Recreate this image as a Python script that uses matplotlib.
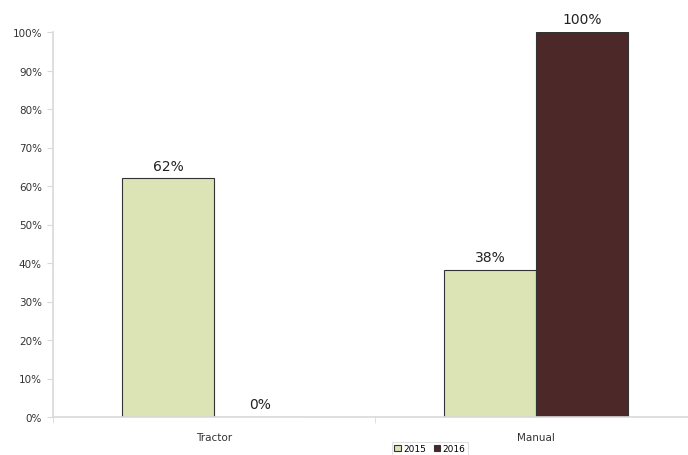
import numpy as np
import matplotlib.pyplot as plt
from matplotlib.ticker import PercentFormatter

categories = ["Tractor", "Manual"]
series_names = ["2015", "2016"]
values_2015 = [62, 38.3]
values_2016 = [0, 100]
labels_2015 = ["62%", "38%"]
labels_2016 = ["0%", "100%"]

col_2015 = "#dce3b5"
col_2016 = "#4d2828"

fig = plt.figure(figsize=(6.88, 4.56), dpi=100)
ax = fig.add_axes([53 / 688, 1 - 418 / 456, 644 / 688, 385 / 456])

x = np.arange(len(categories))
w = 0.286
b1 = ax.bar(x - w / 2, values_2015, w, color=col_2015, edgecolor="#333333", linewidth=0.8, label=series_names[0])
b2 = ax.bar(x + w / 2, values_2016, w, color=col_2016, edgecolor="#333333", linewidth=0.8, label=series_names[1])

for bars, labs in [(b1, labels_2015), (b2, labels_2016)]:
    for r, t in zip(bars, labs):
        ax.text(r.get_x() + r.get_width() / 2, r.get_height() + 1.5, t,
                ha="center", va="bottom", fontsize=10, color="#222222")

ax.set_xlim(-0.5, 1.5)
ax.set_ylim(0, 100)
ax.set_yticks(np.arange(0, 101, 10))
ax.yaxis.set_major_formatter(PercentFormatter(decimals=0))
ax.set_xticks(x)
ax.set_xticklabels(categories)
ax.set_xticks([-0.5, 0.5, 1.5], minor=True)
ax.tick_params(axis="x", which="major", length=0, labelsize=7.5, pad=11, labelcolor="#333333")
ax.tick_params(axis="x", which="minor", length=4, color="#d9d9d9")
ax.tick_params(axis="y", length=4, color="#d9d9d9", labelsize=7.5, pad=4, labelcolor="#333333")

for s in ["top", "right"]:
    ax.spines[s].set_visible(False)
for s in ["left", "bottom"]:
    ax.spines[s].set_color("#d9d9d9")
    ax.spines[s].set_linewidth(1.2)

leg = fig.legend(handles=[b1, b2], loc="upper center", bbox_to_anchor=(430 / 688, 1 - 438 / 456),
                 ncol=2, fontsize=6.5, frameon=True, handlelength=0.7, handleheight=0.7,
                 columnspacing=0.8, handletextpad=0.3, borderpad=0.3, fancybox=False)
leg.get_frame().set_edgecolor("#d9d9d9")
leg.get_frame().set_linewidth(0.8)

fig.savefig("out.png", dpi=100)
